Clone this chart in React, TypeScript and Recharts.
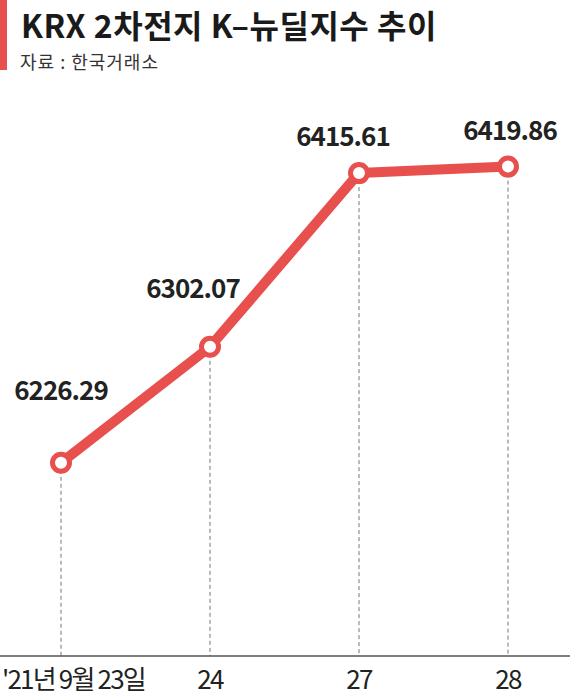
import { LineChart, Line, XAxis, YAxis, ReferenceLine, LabelList } from "recharts";

const DATES = ["'21년 9월 23일", "24", "27", "28"];
const VALUES = [6226.29, 6302.07, 6415.61, 6419.86];
const VALUE_LABELS = ["6226.29", "6302.07", "6415.61", "6419.86"];

const RED = "#e8504e";
const FONT = "'Noto Sans CJK KR', 'Noto Sans', sans-serif";

// label nudges to match the original layout (dx, dy from the point)
const LABEL_NUDGE: [number, number][] = [
  [0, -72],
  [-17, -58],
  [-16, -36],
  [2, -36],
];

const data = DATES.map((d, i) => ({ date: d, value: VALUES[i], label: VALUE_LABELS[i] }));

function DateTick(props: any) {
  const { x, y, payload, index } = props;
  const first = index === 0;
  return (
    <text
      x={first ? 2 : x}
      y={y + 25}
      textAnchor={first ? "start" : "middle"}
      fontFamily={FONT}
      fontSize={26}
      letterSpacing={-1.8}
      fill="#222"
    >
      {payload.value}
    </text>
  );
}

function ValueLabel(props: any) {
  const { x, y, index, value } = props;
  const [dx, dy] = LABEL_NUDGE[index] ?? [0, -40];
  return (
    <text
      x={x + dx}
      y={y + dy + 9}
      textAnchor="middle"
      fontFamily={FONT}
      fontWeight={700}
      fontSize={26}
      letterSpacing={-1}
      fill="#222"
    >
      {value}
    </text>
  );
}

function RingDot(props: any) {
  const { cx, cy } = props;
  return <circle cx={cx} cy={cy} r={8.5} fill="#fff" stroke={RED} strokeWidth={5} />;
}

export default function App() {
  return (
    <div
      style={{
        position: "absolute",
        left: 0,
        top: 0,
        width: 570,
        height: 697,
        background: "#fff",
        overflow: "hidden",
      }}
    >
      <div style={{ position: "absolute", left: 0, top: 0, width: 7, height: 70, background: RED }} />
      <div
        style={{
          position: "absolute",
          left: 21,
          top: 4,
          fontFamily: FONT,
          fontWeight: 700,
          fontSize: 32,
          letterSpacing: 0.5,
          lineHeight: "40px",
          color: "#1a1a1a",
          whiteSpace: "nowrap",
        }}
      >
        KRX 2차전지 K–뉴딜지수 추이
      </div>
      <div
        style={{
          position: "absolute",
          left: 20,
          top: 48,
          fontFamily: FONT,
          fontSize: 18,
          letterSpacing: 1,
          lineHeight: "26px",
          color: "#333",
          whiteSpace: "nowrap",
        }}
      >
        자료 : 한국거래소
      </div>
      <div style={{ position: "absolute", left: 0, top: 0 }}>
        <LineChart width={570} height={697} data={data} margin={{ top: 44, right: 0, bottom: 0, left: 0 }}>
          <XAxis
            dataKey="date"
            height={41}
            padding={{ left: 61, right: 62 }}
            axisLine={{ stroke: "#555", strokeWidth: 1.5 }}
            tickLine={false}
            tick={<DateTick />}
            interval={0}
          />
          <YAxis hide domain={[6100, 6500]} />
          {data.map((d) => (
            <ReferenceLine
              key={d.date}
              segment={[
                { x: d.date, y: d.value },
                { x: d.date, y: 6100 },
              ]}
              stroke="#777"
              strokeWidth={1}
              strokeDasharray="4 3"
            />
          ))}
          <Line
            dataKey="value"
            stroke={RED}
            strokeWidth={10}
            strokeLinecap="round"
            strokeLinejoin="round"
            dot={<RingDot />}
            activeDot={false}
            isAnimationActive={false}
          >
            <LabelList dataKey="label" content={<ValueLabel />} />
          </Line>
        </LineChart>
      </div>
    </div>
  );
}
